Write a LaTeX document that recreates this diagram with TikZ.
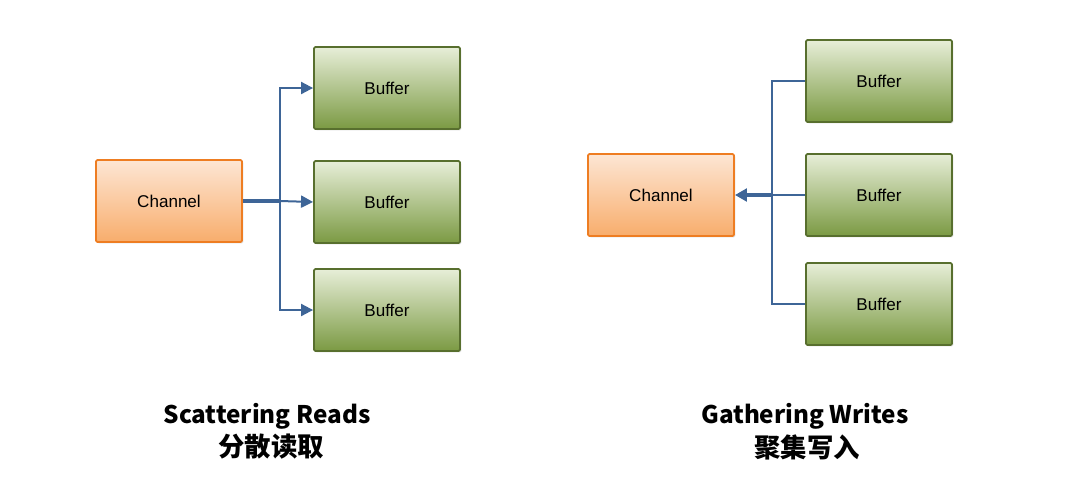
\documentclass[tikz,border=0pt]{standalone}
\usepackage{fontspec}
\setmainfont{Liberation Sans}
\newfontfamily\cjk{Noto Sans CJK SC}
\usetikzlibrary{arrows.meta,shadows}
\definecolor{chtop}{HTML}{FDE6D4}
\definecolor{chbot}{HTML}{F8AD6C}
\definecolor{chdraw}{HTML}{EE7D22}
\definecolor{bftop}{HTML}{E7EED8}
\definecolor{bfbot}{HTML}{7B9A43}
\definecolor{bfdraw}{HTML}{586F2E}
\definecolor{arr}{HTML}{3E6597}
\begin{document}
\begin{tikzpicture}[x=0.75pt,y=-0.75pt,
  box/.style={minimum width=109.5pt,minimum height=61.5pt,rounded corners=1pt,line width=1.4pt,
    font=\fontsize{12.8}{14}\selectfont,inner sep=0pt,
    drop shadow={opacity=0.25,shadow xshift=1pt,shadow yshift=-1pt}},
  chan/.style={box,draw=chdraw,top color=chtop,bottom color=chbot},
  buf/.style={box,draw=bfdraw,top color=bftop,bottom color=bfbot},
  conn/.style={draw=arr,line width=1.5pt},
  thick conn/.style={draw=arr,line width=2.4pt},
  tip/.style={-{Triangle[length=9pt,width=9pt]}},
  title/.style={font=\cjk\bfseries\fontsize{18.2}{23.2}\selectfont,inner sep=0pt},
  subtitle/.style={font=\cjk\bfseries\fontsize{19.8}{23}\selectfont,inner sep=0pt}]
\useasboundingbox (0,0) rectangle (1083,486);
% left
\node[chan] (c1) at (169,201) {Channel};
\node[buf] (b1) at (387,88) {Buffer};
\node[buf] (b2) at (387,202) {Buffer};
\node[buf] (b3) at (387,310) {Buffer};
\coordinate (j1) at (280,201);
\draw[thick conn] (c1.east) -- (j1);
\draw[conn,tip] (j1) |- (b1.west);
\draw[conn,tip] (j1) -- (b2.west);
\draw[conn,tip] (j1) |- (b3.west);
% right
\node[chan] (c2) at (661,195) {Channel};
\node[buf] (d1) at (879,81) {Buffer};
\node[buf] (d2) at (879,195) {Buffer};
\node[buf] (d3) at (879,304) {Buffer};
\coordinate (j2) at (772,195);
\draw[conn] (d1.west) -| (j2);
\draw[conn] (d3.west) -| (j2);
\draw[conn] (d2.west) -- (j2);
\draw[thick conn,-{Triangle[length=9pt,width=9.5pt]}] (j2) -- (c2.east);
% titles
\node[title] (t1) at (267,416) {Scattering Reads};
\node[subtitle] (s1) at (271,447) {分散读取};
\node[title] (t2) at (805,416) {Gathering Writes};
\node[subtitle] (s2) at (807,447) {聚集写入};
\end{tikzpicture}
\end{document}
